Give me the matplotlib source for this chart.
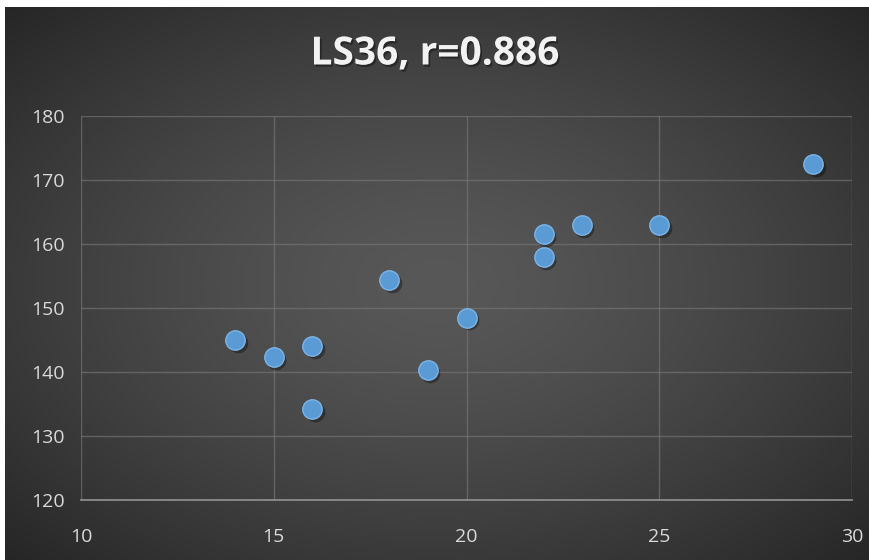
import numpy as np
import matplotlib
matplotlib.use("Agg")
import matplotlib.pyplot as plt
import matplotlib.patheffects as pe

# Data
x_vals = [14, 15, 16, 16, 18, 19, 20, 22, 22, 23, 25, 29]
y_vals = [145.0, 142.3, 144.0, 134.2, 154.3, 140.3, 148.5, 161.5, 158.0, 163.0, 163.0, 172.5]
x_ticks = [10, 15, 20, 25, 30]
y_ticks = [120, 130, 140, 150, 160, 170, 180]
title = "LS36, r=0.886"

W, H = 870, 560
fig = plt.figure(figsize=(W / 100, H / 100), dpi=100)
fig.patch.set_facecolor("white")

# Dark radial-gradient chart area
bg = fig.add_axes([5 / W, 0, (W - 5) / W, (H - 7) / H])
bg.set_axis_off()
gx = np.linspace(-1, 1, 400)
gy = np.linspace(-1, 1, 260)
GX, GY = np.meshgrid(gx, gy)
r = np.sqrt(GX ** 2 + GY ** 2) / np.sqrt(2)
inner, outer = 0x58, 0x26
val = (inner - (inner - outer) * np.clip(r, 0, 1) ** 1.4) / 255.0
img = np.dstack([val, val, val])
bg.imshow(img, extent=[0, 1, 0, 1], aspect="auto", interpolation="bilinear")
bg.set_xlim(0, 1)
bg.set_ylim(0, 1)

ax = fig.add_axes([81 / W, 1 - 500 / H, (852 - 81) / W, (500 - 116) / H])
ax.patch.set_alpha(0)
ax.set_xlim(10, 30)
ax.set_ylim(120, 180)
ax.set_xticks(x_ticks)
ax.set_yticks(y_ticks)
ax.grid(True, color="#777777", linewidth=1.0, alpha=0.65)
ax.set_axisbelow(True)
for side in ("top", "right", "left"):
    ax.spines[side].set_visible(False)
ax.spines["bottom"].set_color("#8c8c8c")
ax.spines["bottom"].set_linewidth(1.3)
ax.tick_params(length=0, colors="#d9d9d9", labelsize=14)
ax.tick_params(axis="y", pad=12)
ax.tick_params(axis="x", pad=20)
for lab in ax.get_xticklabels() + ax.get_yticklabels():
    lab.set_family(["Open Sans", "DejaVu Sans"])
    lab.set_color("#d9d9d9")

# Soft drop shadow under each marker
ax.scatter(np.array(x_vals) + 0.06, np.array(y_vals) - 0.45, s=200,
           color="black", alpha=0.35, linewidths=0, zorder=2)
ax.scatter(x_vals, y_vals, s=195, color="#5b9bd5", edgecolors="#7cb4e8",
           linewidths=1.0, zorder=3)

fig.text(0.5, 1 - 54 / H, title, ha="center", va="center", fontsize=28,
         fontweight="bold", color="#f2f2f2", family=["Open Sans", "DejaVu Sans"],
         path_effects=[pe.withSimplePatchShadow(offset=(1.2, -1.5),
                                                shadow_rgbFace="black",
                                                alpha=0.4)])

fig.savefig("out.png", dpi=100, facecolor=fig.get_facecolor())
